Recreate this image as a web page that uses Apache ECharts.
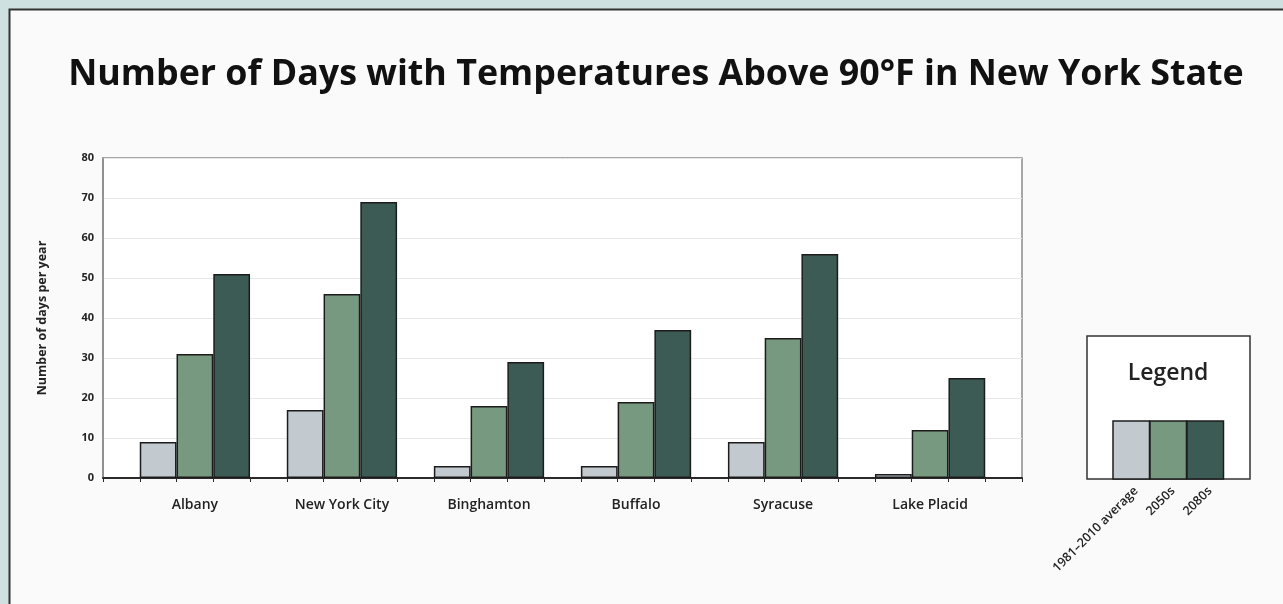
<!DOCTYPE html>
<html>
<head>
<meta charset="utf-8">
<script src="https://cdn.jsdelivr.net/npm/echarts@6/dist/echarts.min.js"></script>
<style>
  html, body { margin: 0; padding: 0; background: #cfe0e1; }
  #chart { width: 1283px; height: 604px; }
</style>
</head>
<body>
<div id="chart"></div>
<script>
// Cities along the horizontal axis
const cities = ['Albany', 'New York City', 'Binghamton', 'Buffalo', 'Syracuse', 'Lake Placid'];
// Days per year above 90°F for each period
const baseline = [9, 17, 3, 3, 9, 1];     // 1981–2010 average
const mid2050s = [31, 46, 18, 19, 35, 12];
const late2080s = [51, 69, 29, 37, 56, 25];
const seriesNames = ['1981–2010 average', '2050s', '2080s'];
const seriesColors = ['#c2cad0', '#77997f', '#3c5b54'];
const yTicks = { min: 0, max: 80, step: 10 };

const FONT = '"Open Sans", "Liberation Sans", sans-serif';
const chart = echarts.init(document.getElementById('chart'), null, { renderer: 'canvas' });

// Plot frame geometry: bars and gaps share 25 equal slots across the frame
const frame = { left: 103, top: 158, right: 1022, bottom: 478 };
const frameW = frame.right - frame.left;
const slot = frameW / 25;

const barStyle = (i) => ({ color: seriesColors[i], borderColor: '#1c1c1c', borderWidth: 1.5 });

// Legend block on the right
const legendSwatchX = [1113, 1150, 1187];
const legendGraphics = [
  { type: 'rect', shape: { x: 1087, y: 336, width: 163, height: 143 },
    style: { fill: '#ffffff', stroke: '#333', lineWidth: 1.5 }, z: 10 },
  { type: 'text', x: 1168, y: 373, z: 11,
    style: { text: 'Legend', fill: '#222', font: '600 23px ' + FONT, align: 'center', verticalAlign: 'middle' } }
];
seriesNames.forEach((name, i) => {
  legendGraphics.push({
    type: 'rect', z: 12,
    shape: { x: legendSwatchX[i], y: 421, width: 36.5, height: 58 },
    style: { fill: seriesColors[i], stroke: '#1c1c1c', lineWidth: 1.5 }
  });
  legendGraphics.push({
    type: 'text', z: 12, x: legendSwatchX[i] + 23, y: 489, rotation: Math.PI / 4,
    style: { text: name, fill: '#222', font: '600 12.5px ' + FONT, align: 'right', verticalAlign: 'middle' }
  });
});

const option = {
  backgroundColor: '#cfe0e1',
  animation: false,
  title: {
    text: 'Number of Days with Temperatures Above 90°F in New York State',
    left: 651, top: 52, textAlign: 'center',
    textStyle: { fontFamily: FONT, fontWeight: 'bold', fontSize: 35.8, color: '#111' }
  },
  graphic: [
    { type: 'rect', z: -10, shape: { x: 9.5, y: 9.5, width: 1300, height: 620 },
      style: { fill: '#fafafa', stroke: '#333', lineWidth: 2 } },
    ...legendGraphics
  ],
  grid: [
    { left: frame.left, top: frame.top, width: frameW, height: frame.bottom - frame.top,
      show: true, borderColor: '#8a8a8a', borderWidth: 1.5, backgroundColor: '#ffffff' },
    { left: frame.left + slot / 2, top: frame.top, width: slot * 24, height: frame.bottom - frame.top }
  ],
  xAxis: [
    { gridIndex: 0, type: 'value', min: 0, max: 25, interval: 1,
      axisLine: { show: true, lineStyle: { color: '#2a2a2a', width: 2 } },
      axisTick: { show: true, length: 4, lineStyle: { color: '#2a2a2a', width: 1 } },
      axisLabel: { show: false }, splitLine: { show: false } },
    { gridIndex: 1, type: 'category', data: cities,
      axisLine: { show: false }, axisTick: { show: false },
      axisLabel: { margin: 20, fontFamily: FONT, fontSize: 14, fontWeight: 600, color: '#222' } }
  ],
  yAxis: [
    { gridIndex: 0, type: 'value', min: yTicks.min, max: yTicks.max, interval: yTicks.step,
      name: 'Number of days per year', nameLocation: 'middle', nameGap: 54, nameRotate: 90,
      nameTextStyle: { fontFamily: FONT, fontSize: 12.5, fontWeight: 'bold', color: '#222' },
      axisLine: { show: true, lineStyle: { color: '#8a8a8a', width: 1.5 } },
      axisTick: { show: false },
      axisLabel: { margin: 9, fontFamily: FONT, fontSize: 11, fontWeight: 'bold', color: '#222' },
      splitLine: { show: true, lineStyle: { color: '#e8e8e8', width: 1 } } },
    { gridIndex: 1, type: 'value', min: yTicks.min, max: yTicks.max, show: false,
      splitLine: { show: false } }
  ],
  series: [baseline, mid2050s, late2080s].map((data, i) => ({
    name: seriesNames[i], type: 'bar', xAxisIndex: 1, yAxisIndex: 1,
    data, barGap: '0%', barCategoryGap: '25%', itemStyle: barStyle(i), z: 3
  }))
};

chart.setOption(option);
</script>
</body>
</html>
